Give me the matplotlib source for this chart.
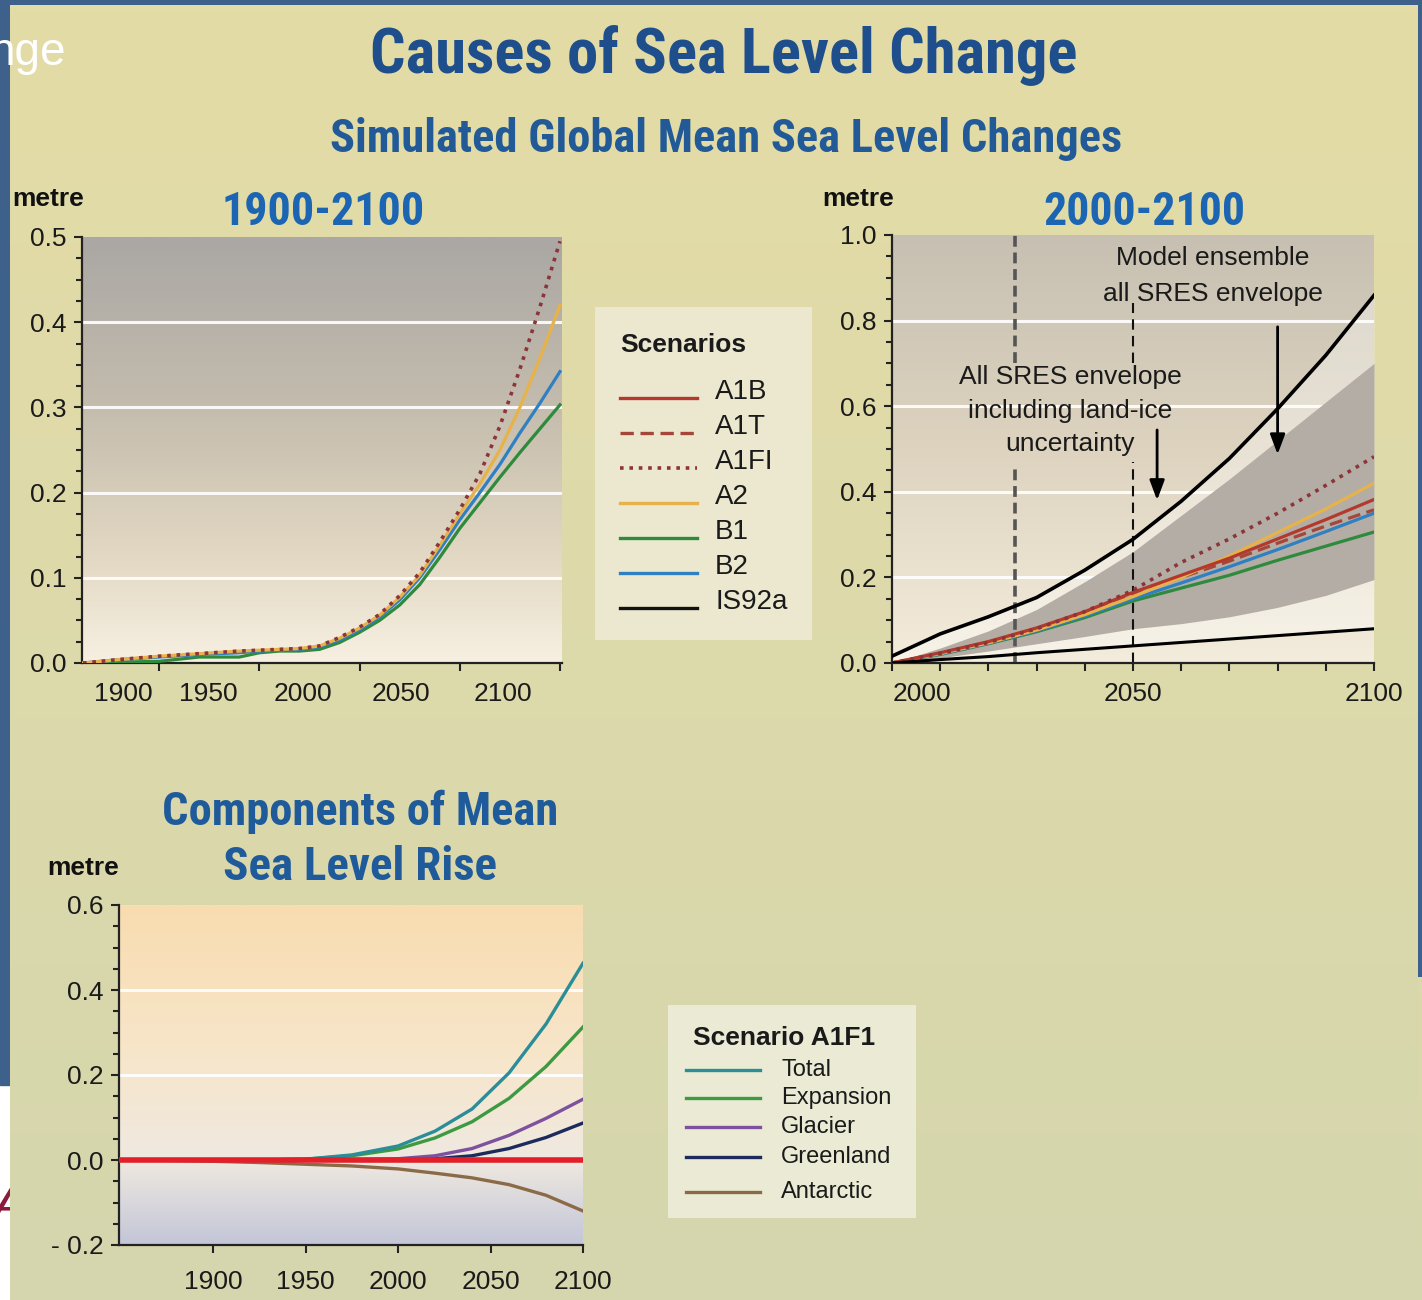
import numpy as np
import matplotlib
matplotlib.use("Agg")
import matplotlib.pyplot as plt
from matplotlib.patches import Rectangle
from matplotlib.ticker import AutoMinorLocator, MultipleLocator
import matplotlib.transforms as mtransforms

# ---------------------------------------------------------------- data
# Panel 1: 1900-2100
P1_YEARS = [1862, 1880, 1900, 1920, 1940, 1950, 1960, 1970, 1980, 1990, 2000,
            2010, 2020, 2030, 2040, 2050, 2060, 2070, 2080, 2090, 2100]
P1_A1FI = [0.000, 0.004, 0.008, 0.011, 0.014, 0.015, 0.016, 0.017, 0.020, 0.030, 0.042,
           0.057, 0.079, 0.106, 0.142, 0.180, 0.222, 0.278, 0.345, 0.418, 0.495]
P1_A2 = [0.000, 0.004, 0.008, 0.011, 0.014, 0.015, 0.016, 0.017, 0.020, 0.029, 0.041,
         0.056, 0.077, 0.103, 0.138, 0.175, 0.210, 0.250, 0.300, 0.358, 0.420]
P1_B2 = [0.000, 0.004, 0.007, 0.010, 0.012, 0.014, 0.015, 0.016, 0.019, 0.027, 0.039,
         0.054, 0.074, 0.100, 0.133, 0.168, 0.200, 0.233, 0.270, 0.305, 0.342]
P1_B1 = [0.000, 0.001, 0.002, 0.007, 0.007, 0.012, 0.014, 0.014, 0.016, 0.024, 0.036,
         0.050, 0.068, 0.092, 0.124, 0.158, 0.188, 0.218, 0.247, 0.275, 0.303]
P1_XTICKS = [1900, 1950, 2000, 2050, 2100]
P1_YTICKS = [0.0, 0.1, 0.2, 0.3, 0.4, 0.5]

# Panel 2: 2000-2100
P2_YEARS = [2000, 2010, 2020, 2030, 2040, 2050, 2060, 2070, 2080, 2090, 2100]
P2_A1B = [0.0, 0.024, 0.050, 0.082, 0.120, 0.165, 0.205, 0.245, 0.290, 0.335, 0.382]
P2_A1T = [0.0, 0.023, 0.049, 0.080, 0.118, 0.160, 0.200, 0.238, 0.280, 0.320, 0.358]
P2_A1FI = [0.0, 0.022, 0.048, 0.080, 0.120, 0.170, 0.235, 0.290, 0.350, 0.415, 0.482]
P2_A2 = [0.0, 0.022, 0.047, 0.077, 0.113, 0.155, 0.200, 0.250, 0.305, 0.360, 0.420]
P2_B1 = [0.0, 0.020, 0.045, 0.073, 0.106, 0.145, 0.175, 0.205, 0.240, 0.273, 0.306]
P2_B2 = [0.0, 0.021, 0.046, 0.075, 0.110, 0.150, 0.187, 0.225, 0.265, 0.307, 0.350]
P2_LANDICE_HIGH = [0.016, 0.068, 0.108, 0.153, 0.217, 0.289, 0.378, 0.478, 0.594, 0.719, 0.859]
P2_LANDICE_LOW = [0.0, 0.008, 0.015, 0.024, 0.032, 0.040, 0.048, 0.056, 0.064, 0.072, 0.080]
P2_ENSEMBLE_HIGH = [0.0, 0.035, 0.075, 0.125, 0.190, 0.260, 0.345, 0.430, 0.520, 0.610, 0.700]
P2_ENSEMBLE_LOW = [0.0, 0.012, 0.028, 0.045, 0.062, 0.080, 0.092, 0.108, 0.130, 0.158, 0.195]
P2_XTICKS = [2000, 2050, 2100]
P2_YTICKS = [0.0, 0.2, 0.4, 0.6, 0.8, 1.0]
P2_DASH_YEARS = [2025.5, 2050]

# Panel 3: components (scenario A1FI)
P3_YEARS = [1865, 1900, 1925, 1950, 1975, 2000, 2020, 2040, 2060, 2080, 2100]
P3_TOTAL = [0.0, 0.0, 0.0, 0.002, 0.012, 0.033, 0.068, 0.120, 0.205, 0.320, 0.463]
P3_EXPANSION = [0.0, 0.0, 0.0, 0.002, 0.010, 0.026, 0.052, 0.090, 0.145, 0.220, 0.313]
P3_GLACIER = [0.0, 0.0, 0.0, 0.0, 0.001, 0.003, 0.010, 0.027, 0.058, 0.098, 0.143]
P3_GREENLAND = [0.0, 0.0, 0.0, 0.0, 0.0, 0.001, 0.003, 0.010, 0.027, 0.053, 0.087]
P3_ANTARCTIC = [0.0, -0.003, -0.006, -0.010, -0.014, -0.021, -0.031, -0.042, -0.058, -0.083, -0.120]
P3_ZERO = [0.0, 0.0]
P3_ZERO_YEARS = [1849, 2100]
P3_XTICKS = [1900, 1950, 2000, 2050, 2100]
P3_YTICKS = [-0.2, 0.0, 0.2, 0.4, 0.6]
P3_YLABELS = ["- 0.2", "0.0", "0.2", "0.4", "0.6"]

SCENARIOS = ["A1B", "A1T", "A1FI", "A2", "B1", "B2", "IS92a"]
SCEN_COLORS = ["#b3392c", "#a4473a", "#8c3438", "#e8b24a", "#2e8a3c", "#2f80c2", "#111111"]
SCEN_STYLES = ["-", (0, (4, 2)), (0, (1, 1.6)), "-", "-", "-", "-"]
COMPONENTS = ["Total", "Expansion", "Glacier", "Greenland", "Antarctic"]
COMP_COLORS = ["#2a8d98", "#3c9a42", "#7e519e", "#1d2b5c", "#8b6a48"]

# ---------------------------------------------------------------- figure
W, H = 1422, 1300
plt.rcParams["font.family"] = ["Liberation Sans", "DejaVu Sans"]
fig = plt.figure(figsize=(W / 100, H / 100), dpi=100)
fig.patch.set_facecolor("white")
renderer = fig.canvas.get_renderer()

TITLE_FAM = ["Roboto Condensed", "Open Sans Condensed", "Liberation Sans", "DejaVu Sans"]


def fx(x):
    return x / W


def fy(y):
    return 1 - y / H


def px_axes(x0, y0, x1, y1, **kw):
    return fig.add_axes([x0 / W, 1 - y1 / H, (x1 - x0) / W, (y1 - y0) / H], **kw)


def fit_title(xc, y_base, s, width, color, base=40):
    t = fig.text(fx(xc), fy(y_base), s, family=TITLE_FAM,
                 weight="bold", fontsize=base, color=color, ha="center", va="baseline")
    w = t.get_window_extent(renderer=renderer).width
    t.set_fontsize(base * width / w)
    return t


def gradient(ax, stops, colors):
    n = 256
    t = np.linspace(0, 1, n)  # 0 = top
    cols = np.array([matplotlib.colors.to_rgb(c) for c in colors])
    img = np.stack([np.interp(t, stops, cols[:, k]) for k in range(3)], axis=-1)
    ax.imshow(img[:, None, :], extent=[0, 1, 0, 1], transform=ax.transAxes,
              aspect="auto", origin="upper", zorder=0, interpolation="bilinear")


# background: slide + beige panel
bg = fig.add_axes([0, 0, 1, 1], zorder=-10)
bg.axis("off")
bg.add_patch(Rectangle((0, 0), W, 1085, color="#3d618a", zorder=0))
bg.text(-8, 1222, "A", color="#8c1c3c", fontsize=40, style="italic",
        ha="left", va="baseline", zorder=1)
panel = np.linspace(0, 1, 256)
pcols = np.array([matplotlib.colors.to_rgb(c) for c in ["#e4dca6", "#dcd9ab", "#d5d6ae"]])
pimg = np.stack([np.interp(panel, [0, 0.55, 1], pcols[:, k]) for k in range(3)], axis=-1)
bg.imshow(pimg[:, None, :], extent=[10, 1418, 1300, 5], aspect="auto", zorder=2)
bg.imshow(pimg[150:, None, :], extent=[1418, W, 1300, 977], aspect="auto", zorder=2)
bg.set_xlim(0, W)
bg.set_ylim(H, 0)
bg.text(66, 65, "nge", color="white", fontsize=33, ha="right", va="baseline", zorder=3)

# titles
fit_title(724, 73, "Causes of Sea Level Change", 708, "#1e4f8c")
fit_title(726, 152, "Simulated Global Mean Sea Level Changes", 792, "#225a98")
fit_title(323, 225, "1900-2100", 203, "#1b65b2")
fit_title(1144, 225, "2000-2100", 202, "#1b65b2")
fit_title(360, 825, "Components of Mean", 395, "#1f5a9a")
fit_title(360, 880, "Sea Level Rise", 274, "#1f5a9a")
for (x, y) in [(12, 206), (822, 206), (47, 875)]:
    fig.text(fx(x), fy(y), "metre", weight="bold", fontsize=19, color="#111111",
             ha="left", va="baseline")


def style_axes(ax):
    for s in ["top", "right"]:
        ax.spines[s].set_visible(False)
    for s in ["left", "bottom"]:
        ax.spines[s].set_linewidth(1.6)
        ax.spines[s].set_color("#222222")
    ax.set_facecolor("none")
    ax.tick_params(which="both", direction="out", color="#222222", width=1.5,
                   labelsize=19, labelcolor="#1a1a1a")
    ax.tick_params(which="major", length=6, pad=5)
    ax.tick_params(which="minor", length=4.5)
    ax.tick_params(axis="x", pad=8)


def shift_labels(ax, offsets):
    for lbl, dx in zip(ax.get_xticklabels(), offsets):
        lbl.set_transform(lbl.get_transform() +
                          mtransforms.ScaledTranslation(dx / 100, 0, fig.dpi_scale_trans))


def white_grid(ax, levels, x0, x1):
    for v in levels:
        ax.plot([x0, x1], [v, v], color="white", lw=2.2, zorder=1, alpha=0.9)


# ---------------------------------------------------------------- panel 1
ax1 = px_axes(82, 237, 562, 663)
gradient(ax1, [0, 0.4, 0.75, 1], ["#aaa7a4", "#c4bcad", "#e2d8c3", "#f7f0e2"])
ax1.set_xlim(1861.5, 2101)
ax1.set_ylim(0, 0.5)
white_grid(ax1, [0.1, 0.2, 0.3, 0.4], 1861.5, 2101)
ax1.plot(P1_YEARS, P1_B1, color=SCEN_COLORS[4], lw=2.3, zorder=3)
ax1.plot(P1_YEARS, P1_B2, color=SCEN_COLORS[5], lw=2.3, zorder=3)
ax1.plot(P1_YEARS, P1_A2, color=SCEN_COLORS[3], lw=2.3, zorder=3)
ax1.plot(P1_YEARS, P1_A1FI, color=SCEN_COLORS[2], lw=2.6, ls=SCEN_STYLES[2], zorder=4)
style_axes(ax1)
ax1.set_xticks(P1_XTICKS)
ax1.set_xticklabels([str(v) for v in P1_XTICKS])
ax1.set_yticks(P1_YTICKS)
ax1.set_yticklabels([f"{v:.1f}" for v in P1_YTICKS])
ax1.yaxis.set_minor_locator(AutoMinorLocator(4))
shift_labels(ax1, [-36, -51, -57, -59, -57])

# ---------------------------------------------------------------- panel 2
ax2 = px_axes(892, 235, 1374, 663)
gradient(ax2, [0, 0.5, 1], ["#c7c0b2", "#ddd3bf", "#f4ecdc"])
ax2.set_xlim(2000, 2100)
ax2.set_ylim(0, 1.0)
white_grid(ax2, [0.2, 0.4, 0.6, 0.8], 2000, 2100)
ax2.fill_between(P2_YEARS, P2_LANDICE_LOW, P2_LANDICE_HIGH, color="white", alpha=0.35, lw=0, zorder=1.5)
ax2.fill_between(P2_YEARS, P2_ENSEMBLE_LOW, P2_ENSEMBLE_HIGH, color="#b3ada5", lw=0, zorder=2)
ax2.plot(P2_YEARS, P2_LANDICE_HIGH, color="black", lw=2.6, zorder=5)
ax2.plot(P2_YEARS, P2_LANDICE_LOW, color="black", lw=2.2, zorder=5)
# dashed marker lines (split around text)
ax2.plot([P2_DASH_YEARS[0]] * 2, [0.0, 0.466], color="#555555", lw=2.6, ls=(0, (3, 1.6)), zorder=2.5)
ax2.plot([P2_DASH_YEARS[0]] * 2, [0.70, 1.0], color="#555555", lw=2.6, ls=(0, (3, 1.6)), zorder=2.5)
ax2.plot([P2_DASH_YEARS[1]] * 2, [0.0, 0.47], color="#111111", lw=1.5, ls=(0, (5, 3)), zorder=2.5)
ax2.plot([P2_DASH_YEARS[1]] * 2, [0.70, 0.84], color="#111111", lw=1.5, ls=(0, (5, 3)), zorder=2.5)
p2_series = [P2_B1, P2_B2, P2_A1T, P2_A2, P2_A1B, P2_A1FI]
p2_idx = [4, 5, 1, 3, 0, 2]
for vals, i in zip(p2_series, p2_idx):
    ax2.plot(P2_YEARS, vals, color=SCEN_COLORS[i], ls=SCEN_STYLES[i],
             lw=2.6 if i == 2 else 2.3, zorder=4)
ax2.annotate("", xy=(2055, 0.374), xytext=(2055, 0.551),
             arrowprops=dict(arrowstyle="-|>,head_length=1.2,head_width=0.45", lw=2, color="black"), zorder=6)
ax2.annotate("", xy=(2080, 0.481), xytext=(2080, 0.792),
             arrowprops=dict(arrowstyle="-|>,head_length=1.2,head_width=0.45", lw=2, color="black"), zorder=6)
style_axes(ax2)
ax2.set_xticks(P2_XTICKS)
ax2.set_xticklabels([str(v) for v in P2_XTICKS])
ax2.xaxis.set_minor_locator(MultipleLocator(10))
ax2.set_yticks(P2_YTICKS)
ax2.set_yticklabels([f"{v:.1f}" for v in P2_YTICKS])
ax2.yaxis.set_minor_locator(AutoMinorLocator(4))
ax2.tick_params(which="minor", axis="x", length=6)
shift_labels(ax2, [30, 0, 0])

ann_kw = dict(fontsize=19, color="#1a1a1a", ha="center", va="baseline")
fig.text(fx(1213), fy(265), "Model ensemble", **ann_kw)
fig.text(fx(1213), fy(301), "all SRES envelope", **ann_kw)
fig.text(fx(1070), fy(384), "All SRES envelope", **ann_kw)
fig.text(fx(1070), fy(418), "including land-ice", **ann_kw)
fig.text(fx(1070), fy(451), "uncertainty", **ann_kw)

# ---------------------------------------------------------------- panel 3
ax3 = px_axes(119, 905, 583, 1245)
gradient(ax3, [0, 0.45, 0.75, 1], ["#f9dcb0", "#f7e6cb", "#efe9e0", "#c3c6d8"])
ax3.set_xlim(1849, 2100)
ax3.set_ylim(-0.2, 0.6)
white_grid(ax3, [0.2, 0.4], 1849, 2100)
for vals, c in zip([P3_ANTARCTIC, P3_GREENLAND, P3_GLACIER, P3_EXPANSION, P3_TOTAL],
                   [COMP_COLORS[4], COMP_COLORS[3], COMP_COLORS[2], COMP_COLORS[1], COMP_COLORS[0]]):
    ax3.plot(P3_YEARS, vals, color=c, lw=2.4, zorder=3)
ax3.plot(P3_ZERO_YEARS, P3_ZERO, color="#e3202a", lw=4, zorder=4, solid_capstyle="butt")
style_axes(ax3)
ax3.set_xticks(P3_XTICKS)
ax3.set_xticklabels([str(v) for v in P3_XTICKS])
ax3.set_yticks(P3_YTICKS)
ax3.set_yticklabels(P3_YLABELS)
ax3.yaxis.set_minor_locator(AutoMinorLocator(4))
ax3.tick_params(axis="x", pad=12)

# ---------------------------------------------------------------- legend 1
axl = px_axes(595, 307, 812, 640)
axl.set_xlim(595, 812)
axl.set_ylim(640, 307)
axl.set_facecolor("#ebe8cf")
for s in axl.spines.values():
    s.set_visible(False)
axl.set_xticks([])
axl.set_yticks([])
axl.text(620, 352, "Scenarios", weight="bold", fontsize=19, color="#1a1a1a", ha="left", va="baseline")
for i, (name, c, ls) in enumerate(zip(SCENARIOS, SCEN_COLORS, SCEN_STYLES)):
    yl = 398 + 35 * i
    axl.plot([620, 697], [yl, yl], color=c, ls=ls, lw=2.6 if i == 2 else 2.4)
    axl.text(715, yl + 1, name, fontsize=20, color="#1a1a1a", ha="left", va="baseline")

# ---------------------------------------------------------------- legend 2
axm = px_axes(668, 1005, 916, 1218)
axm.set_xlim(668, 916)
axm.set_ylim(1218, 1005)
axm.set_facecolor("#ebebd5")
for s in axm.spines.values():
    s.set_visible(False)
axm.set_xticks([])
axm.set_yticks([])
axm.text(693, 1045, "Scenario A1F1", weight="bold", fontsize=19, color="#1a1a1a", ha="left", va="baseline")
leg2_y = [1070, 1098, 1127, 1157, 1192]
for name, c, yl in zip(COMPONENTS, COMP_COLORS, leg2_y):
    axm.plot([686, 760], [yl, yl], color=c, lw=2.4)
    axm.text(781, yl + 6, name, fontsize=17, color="#1a1a1a", ha="left", va="baseline")

fig.savefig("out.png", dpi=100, facecolor=fig.get_facecolor())
